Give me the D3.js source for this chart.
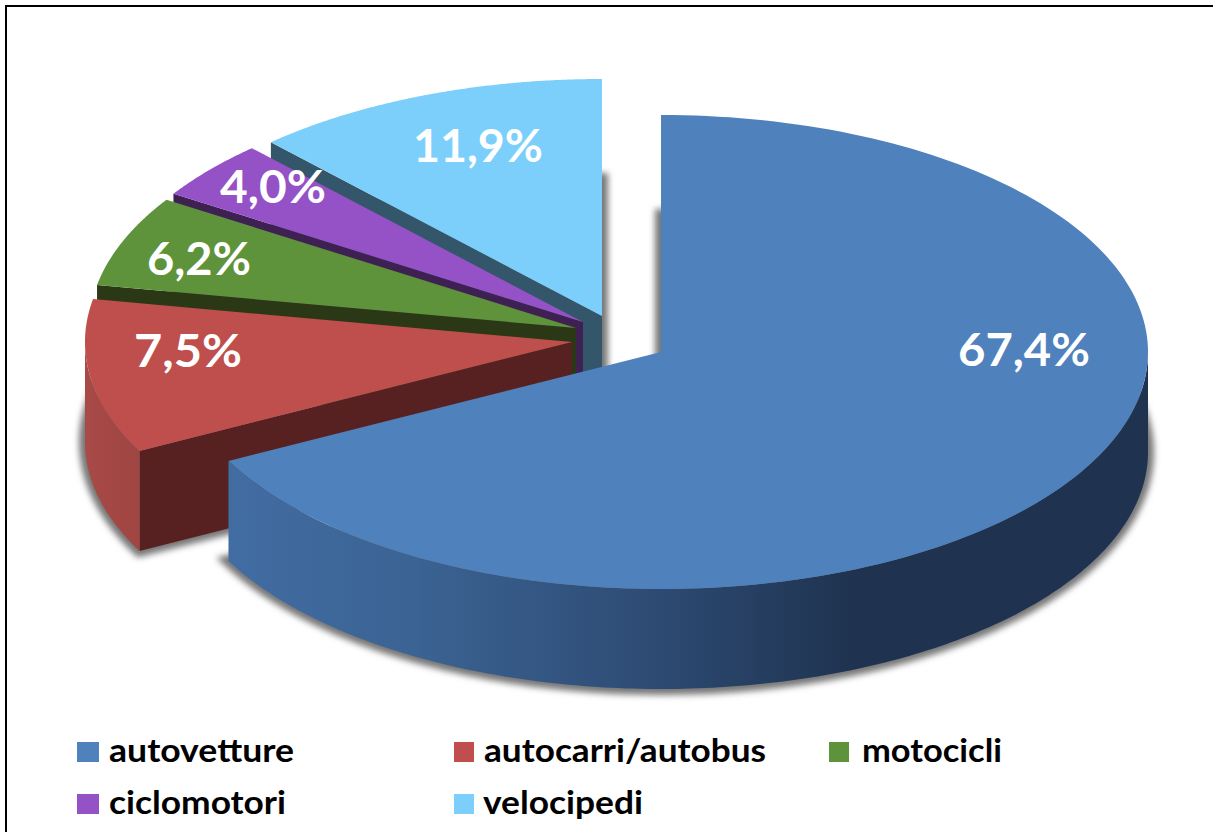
<!DOCTYPE html>
<html><head><meta charset="utf-8">
<script src="https://cdn.jsdelivr.net/npm/d3@7"></script>
<style>html,body{margin:0;padding:0;background:#fff;overflow:hidden}svg{display:block}text{font-family:Lato,"Open Sans",sans-serif;font-weight:700}</style>
</head><body><svg id="c" width="1213" height="832"></svg>
<script>
const categories = ["autovetture","autocarri/autobus","motocicli","ciclomotori","velocipedi"];
// slice sweep (the printed 7,5% is drawn with a wider sweep)
const sliceValues = [67.4,10.5,6.2,4.0,11.9];
const valueLabels = ["67,4%","7,5%","6,2%","4,0%","11,9%"];
const topColors  = ["#4f81bd","#be4f4c","#5f933b","#9452c6","#7ccffb"];
const wallColors = ["#1f3350","#562120","#2a3815","#3e2152","#33566a"];

const W=1213,H=832, cx=661, cy=352, rx=487, ry=237, depth=100;
const offsets=[[0,0],[-89,-10],[-85,-24],[-78,-30],[-59,-36]];
const labelPos=[[1024,366],[188,367],[199,275],[273,203],[478,162]];
const labelWidth=[132,108,104,106,130];
const legendPos=[[77,742],[454,742],[829,742],[77,794],[454,794]];
const legendSize=[22,20,20,22,20];
const legendTextPos=[[109,762],[484,762],[862,762],[109,814],[483,814]];
const legendWidth=[185,282,140,177,160];

const svg=d3.select("#c");
const defs=svg.append("defs");
const blur=defs.append("filter").attr("id","blur").attr("x","-10%").attr("y","-10%").attr("width","120%").attr("height","120%");
blur.append("feGaussianBlur").attr("stdDeviation",3);
const g1=defs.append("linearGradient").attr("id","blueWall").attr("gradientUnits","userSpaceOnUse").attr("x1",230).attr("x2",1148).attr("y1",0).attr("y2",0);
[[0,"#426da3"],[0.2,"#3b6393"],[0.45,"#2e4c75"],[0.68,"#1f3350"],[1,"#1f3350"]].forEach(s=>g1.append("stop").attr("offset",s[0]).attr("stop-color",s[1]));
const g2=defs.append("linearGradient").attr("id","redWall").attr("gradientUnits","userSpaceOnUse").attr("x1",85).attr("x2",140).attr("y1",0).attr("y2",0);
[[0,"#a84a47"],[1,"#a04542"]].forEach(s=>g2.append("stop").attr("offset",s[0]).attr("stop-color",s[1]));

const pie=d3.pie().sort(null).value(d=>d);
const arcs=pie(sliceValues);
const line=d3.line();
const pt=(a,i,dz=0)=>[cx+offsets[i][0]+rx*Math.sin(a), cy+offsets[i][1]-ry*Math.cos(a)+dz];
const sample=(a0,a1)=>d3.range(0,181).map(k=>a0+(a1-a0)*k/180);
const apex=(i,dz=0)=>[cx+offsets[i][0],cy+offsets[i][1]+dz];
const sector=(d,i,dz=0)=>line([apex(i,dz),...sample(d.startAngle,d.endAngle).map(a=>pt(a,i,dz))])+"Z";

// drop shadows sit behind every solid
svg.append("g").attr("filter","url(#blur)").selectAll("path").data(arcs).join("path")
  .attr("d",(d,i)=>sector(d,i,depth)).attr("fill","#777").attr("stroke","#777")
  .attr("stroke-width",12).attr("stroke-linejoin","miter");

// back to front
const order=[4,3,2,1,0];
const solids=svg.append("g");
order.forEach(i=>{
  const d=arcs[i], g=solids.append("g");
  if(i!==0){
    const e=pt(d.startAngle,i);
    g.append("path").attr("d",line([apex(i),e,[e[0],e[1]+depth],apex(i,depth)])+"Z").attr("fill",wallColors[i]);
  }
  const a0=Math.max(d.startAngle,Math.PI/2), a1=Math.min(d.endAngle,Math.PI*1.5);
  if(a1>a0){
    const s=sample(a0,a1);
    g.append("path").attr("d",line([...s.map(a=>pt(a,i)),...s.slice().reverse().map(a=>pt(a,i,depth))])+"Z")
      .attr("fill",i===0?"url(#blueWall)":i===1?"url(#redWall)":wallColors[i]);
  }
  g.append("path").attr("d",sector(d,i)).attr("fill",topColors[i]);
});

// value labels
svg.append("g").selectAll("text").data(valueLabels).join("text")
  .attr("x",(d,i)=>labelPos[i][0]).attr("y",(d,i)=>labelPos[i][1])
  .attr("text-anchor","middle").attr("fill","#fff").attr("font-size",46)
  .attr("textLength",(d,i)=>labelWidth[i]).attr("lengthAdjust","spacingAndGlyphs").text(d=>d);

// legend
const lg=svg.append("g");
lg.selectAll("rect").data(categories).join("rect")
  .attr("x",(d,i)=>legendPos[i][0]).attr("y",(d,i)=>legendPos[i][1])
  .attr("width",(d,i)=>legendSize[i]).attr("height",20).attr("fill",(d,i)=>topColors[i]);
lg.selectAll("text").data(categories).join("text")
  .attr("x",(d,i)=>legendTextPos[i][0]).attr("y",(d,i)=>legendTextPos[i][1])
  .attr("font-size",33).attr("fill","#000")
  .attr("textLength",(d,i)=>legendWidth[i]).attr("lengthAdjust","spacingAndGlyphs").text(d=>d);

// frame
svg.append("rect").attr("x",6).attr("y",6).attr("width",1400).attr("height",1000).attr("fill","none").attr("stroke","#000").attr("stroke-width",2);
</script></body></html>
